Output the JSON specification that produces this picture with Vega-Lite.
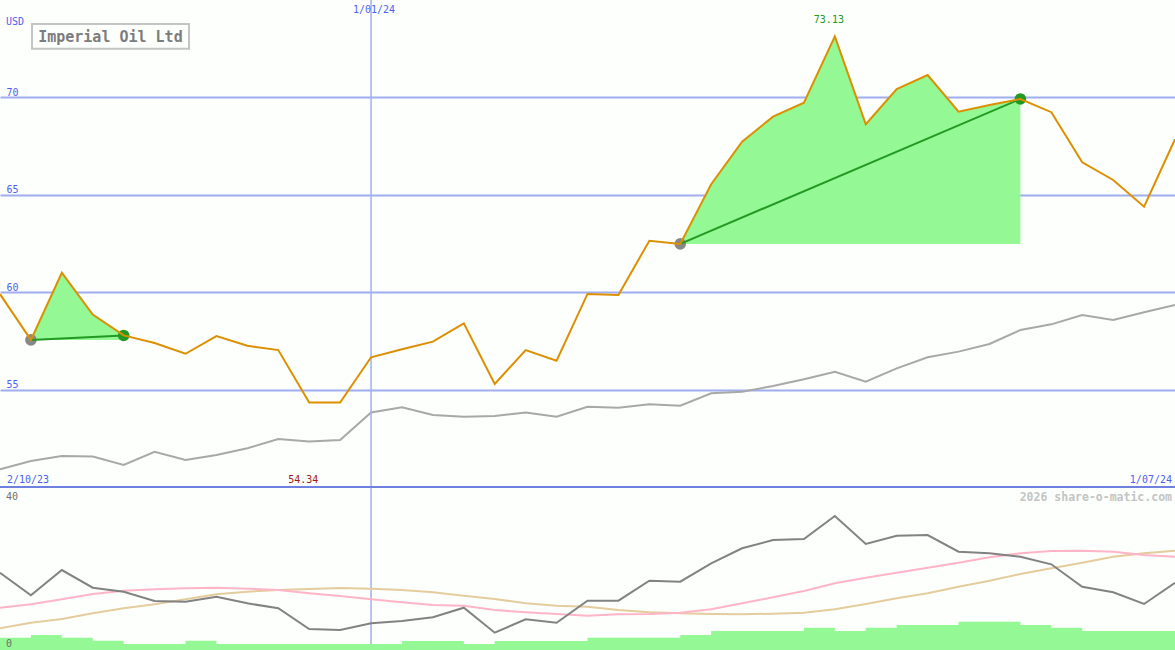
{
  "$schema": "https://vega.github.io/schema/vega-lite/v6.json",
  "background": "#fcfffc",
  "padding": 0,
  "bounds": "flush",
  "spacing": 0,
  "config": {"view": {"stroke": null}, "font": "DejaVu Sans Mono"},
  "datasets": {
    "prices": [
      {"date": "2023-10-09", "price": 59.9, "ma": 50.91, "osc": 20.86, "s1": 11.42, "s2": 5.86, "vol": 3.32},
      {"date": "2023-10-16", "price": 57.55, "ma": 51.33, "osc": 14.76, "s1": 12.33, "s2": 7.37, "vol": 4.05, "seg": 1, "sig": "buy"},
      {"date": "2023-10-23", "price": 61.0, "ma": 51.59, "osc": 21.59, "s1": 13.68, "s2": 8.37, "vol": 3.32, "seg": 1},
      {"date": "2023-10-30", "price": 58.85, "ma": 51.56, "osc": 16.82, "s1": 15.11, "s2": 9.91, "vol": 2.51, "seg": 1},
      {"date": "2023-11-06", "price": 57.78, "ma": 51.13, "osc": 15.74, "s1": 16.01, "s2": 11.26, "vol": 1.62, "seg": 1, "sig": "sell"},
      {"date": "2023-11-13", "price": 57.39, "ma": 51.81, "osc": 13.23, "s1": 16.38, "s2": 12.33, "vol": 1.62},
      {"date": "2023-11-20", "price": 56.84, "ma": 51.39, "osc": 13.04, "s1": 16.65, "s2": 13.68, "vol": 2.51},
      {"date": "2023-11-27", "price": 57.75, "ma": 51.64, "osc": 14.39, "s1": 16.82, "s2": 15.03, "vol": 1.62},
      {"date": "2023-12-04", "price": 57.25, "ma": 51.99, "osc": 12.6, "s1": 16.55, "s2": 15.74, "vol": 1.62},
      {"date": "2023-12-11", "price": 57.03, "ma": 52.46, "osc": 11.26, "s1": 16.19, "s2": 16.19, "vol": 1.62},
      {"date": "2023-12-18", "price": 54.34, "ma": 52.33, "osc": 5.67, "s1": 15.3, "s2": 16.46, "vol": 1.62},
      {"date": "2023-12-25", "price": 54.34, "ma": 52.41, "osc": 5.4, "s1": 14.57, "s2": 16.73, "vol": 1.62},
      {"date": "2024-01-01", "price": 56.66, "ma": 53.83, "osc": 7.21, "s1": 13.68, "s2": 16.55, "vol": 1.62},
      {"date": "2024-01-08", "price": 57.07, "ma": 54.09, "osc": 7.83, "s1": 12.87, "s2": 16.19, "vol": 2.43},
      {"date": "2024-01-15", "price": 57.46, "ma": 53.7, "osc": 8.83, "s1": 12.15, "s2": 15.57, "vol": 2.43},
      {"date": "2024-01-22", "price": 58.4, "ma": 53.61, "osc": 11.42, "s1": 11.96, "s2": 14.66, "vol": 1.62},
      {"date": "2024-01-29", "price": 55.29, "ma": 53.64, "osc": 4.67, "s1": 10.8, "s2": 13.77, "vol": 2.43},
      {"date": "2024-02-05", "price": 57.03, "ma": 53.83, "osc": 8.29, "s1": 10.18, "s2": 12.6, "vol": 2.43},
      {"date": "2024-02-12", "price": 56.48, "ma": 53.61, "osc": 7.37, "s1": 9.72, "s2": 11.96, "vol": 2.43},
      {"date": "2024-02-19", "price": 59.91, "ma": 54.12, "osc": 13.31, "s1": 9.26, "s2": 11.69, "vol": 3.32},
      {"date": "2024-02-26", "price": 59.86, "ma": 54.07, "osc": 13.31, "s1": 9.64, "s2": 10.8, "vol": 3.32},
      {"date": "2024-03-04", "price": 62.64, "ma": 54.25, "osc": 18.7, "s1": 9.72, "s2": 10.18, "vol": 3.32},
      {"date": "2024-03-11", "price": 62.48, "ma": 54.17, "osc": 18.43, "s1": 10.07, "s2": 9.91, "vol": 4.05, "seg": 2, "sig": "buy"},
      {"date": "2024-03-18", "price": 65.54, "ma": 54.81, "osc": 23.4, "s1": 10.99, "s2": 9.72, "vol": 5.13, "seg": 2},
      {"date": "2024-03-25", "price": 67.73, "ma": 54.89, "osc": 27.45, "s1": 12.6, "s2": 9.64, "vol": 5.13, "seg": 2},
      {"date": "2024-04-01", "price": 69.01, "ma": 55.18, "osc": 29.69, "s1": 14.22, "s2": 9.8, "vol": 5.13, "seg": 2},
      {"date": "2024-04-08", "price": 69.73, "ma": 55.53, "osc": 29.96, "s1": 15.92, "s2": 10.07, "vol": 6.02, "seg": 2},
      {"date": "2024-04-15", "price": 73.13, "ma": 55.92, "osc": 36.17, "s1": 18.0, "s2": 10.99, "vol": 5.13, "seg": 2},
      {"date": "2024-04-22", "price": 68.62, "ma": 55.41, "osc": 28.61, "s1": 19.51, "s2": 12.42, "vol": 6.02, "seg": 2},
      {"date": "2024-04-29", "price": 70.43, "ma": 56.09, "osc": 30.85, "s1": 20.86, "s2": 13.95, "vol": 6.75, "seg": 2},
      {"date": "2024-05-06", "price": 71.15, "ma": 56.66, "osc": 31.04, "s1": 22.21, "s2": 15.3, "vol": 6.75, "seg": 2},
      {"date": "2024-05-13", "price": 69.27, "ma": 56.95, "osc": 26.53, "s1": 23.56, "s2": 17.09, "vol": 7.64, "seg": 2},
      {"date": "2024-05-20", "price": 69.61, "ma": 57.34, "osc": 26.1, "s1": 25.02, "s2": 18.7, "vol": 7.64, "seg": 2},
      {"date": "2024-05-27", "price": 69.92, "ma": 58.06, "osc": 25.18, "s1": 26.1, "s2": 20.51, "vol": 6.75, "seg": 2, "sig": "sell"},
      {"date": "2024-06-03", "price": 69.24, "ma": 58.35, "osc": 23.13, "s1": 26.72, "s2": 22.05, "vol": 6.02},
      {"date": "2024-06-10", "price": 66.67, "ma": 58.83, "osc": 17.09, "s1": 26.8, "s2": 23.56, "vol": 5.13},
      {"date": "2024-06-17", "price": 65.76, "ma": 58.57, "osc": 15.57, "s1": 26.53, "s2": 25.18, "vol": 5.13},
      {"date": "2024-06-24", "price": 64.39, "ma": 58.97, "osc": 12.42, "s1": 25.64, "s2": 26.1, "vol": 5.13},
      {"date": "2024-07-01", "price": 67.85, "ma": 59.34, "osc": 18.16, "s1": 25.18, "s2": 26.8, "vol": 5.13}
    ]
  },
  "vconcat": [
    {
      "width": 1175,
      "height": 487,
      "data": {"name": "prices"},
      "layer": [
        {
          "mark": {"type": "line", "color": "#a8a8a8", "strokeWidth": 2, "clip": true},
          "encoding": {
            "x": {"field": "date", "type": "temporal", "axis": null,
                  "scale": {"domain": [{"year": 2023, "month": 10, "date": 9, "utc": true}, {"year": 2024, "month": 7, "date": 1, "utc": true}], "nice": false}},
            "y": {"field": "ma", "type": "quantitative",
                  "scale": {"domain": [50, 75], "nice": false, "zero": false},
                  "axis": {"values": [55, 60, 65, 70], "grid": true, "gridColor": "#a0aef0", "gridWidth": 2, "domain": false, "ticks": false,
                           "labelAlign": "left", "labelPadding": -6, "labelBaseline": "alphabetic", "labelOffset": -2,
                           "labelColor": "#5060f0", "labelFont": "DejaVu Sans Mono", "labelFontSize": 10, "title": null, "labelFlush": false}}
          }
        },
        {
          "data": {"values": [{}]},
          "mark": {"type": "rule", "color": "#a0aef0", "strokeWidth": 1.5, "clip": true},
          "encoding": {"x": {"datum": {"year": 2024, "month": 1, "date": 1, "utc": true}, "type": "temporal"}}
        },
        {
          "transform": [
            {"filter": "isValid(datum.seg)"},
            {"window": [{"op": "first_value", "field": "price", "as": "base"}], "groupby": ["seg"], "sort": [{"field": "date"}], "frame": [null, null]}
          ],
          "mark": {"type": "area", "color": "#94f894", "opacity": 1},
          "encoding": {
            "x": {"field": "date", "type": "temporal"},
            "y": {"field": "price", "type": "quantitative"},
            "y2": {"field": "base"},
            "detail": {"field": "seg"}
          }
        },
        {
          "transform": [{"filter": "isValid(datum.sig)"}],
          "mark": {"type": "circle", "size": 135, "opacity": 1},
          "encoding": {
            "x": {"field": "date", "type": "temporal"},
            "y": {"field": "price", "type": "quantitative"},
            "color": {"field": "sig", "type": "nominal", "scale": {"domain": ["buy", "sell"], "range": ["#888888", "#229922"]}, "legend": null}
          }
        },
        {
          "transform": [{"filter": "isValid(datum.sig)"}],
          "mark": {"type": "line", "color": "#229922", "strokeWidth": 2, "clip": true},
          "encoding": {
            "x": {"field": "date", "type": "temporal"},
            "y": {"field": "price", "type": "quantitative"},
            "detail": {"field": "seg"}
          }
        },
        {
          "mark": {"type": "line", "color": "#dc8f00", "strokeWidth": 2, "clip": true},
          "encoding": {
            "x": {"field": "date", "type": "temporal"},
            "y": {"field": "price", "type": "quantitative"}
          }
        },
        {
          "transform": [
            {"window": [{"op": "row_number", "as": "rn"}], "sort": [{"field": "price", "order": "descending"}, {"field": "date"}]},
            {"filter": "datum.rn == 1"}
          ],
          "mark": {"type": "text", "color": "#229922", "fontSize": 10, "baseline": "alphabetic", "align": "center", "dy": -13, "dx": -6},
          "encoding": {
            "x": {"field": "date", "type": "temporal"},
            "y": {"field": "price", "type": "quantitative"},
            "text": {"field": "price", "type": "quantitative", "format": ".2f"}
          }
        },
        {
          "transform": [
            {"window": [{"op": "row_number", "as": "rn"}], "sort": [{"field": "price", "order": "ascending"}, {"field": "date"}]},
            {"filter": "datum.rn == 1"}
          ],
          "mark": {"type": "text", "color": "#a01818", "fontSize": 10, "baseline": "alphabetic", "align": "center", "dy": -4, "dx": -6},
          "encoding": {
            "x": {"field": "date", "type": "temporal"},
            "y": {"datum": 50, "type": "quantitative"},
            "text": {"field": "price", "type": "quantitative", "format": ".2f"}
          }
        },
        {
          "data": {"values": [{}]},
          "mark": {"type": "text", "text": "USD", "color": "#5060f0", "fontSize": 10, "align": "left", "baseline": "alphabetic", "dx": 6, "dy": 25},
          "encoding": {
            "x": {"datum": {"year": 2023, "month": 10, "date": 9, "utc": true}, "type": "temporal"},
            "y": {"datum": 75, "type": "quantitative"}
          }
        },
        {
          "data": {"values": [{}]},
          "mark": {"type": "text", "text": "1/01/24", "color": "#5060f0", "fontSize": 10, "align": "center", "baseline": "alphabetic", "dx": 3, "dy": 13},
          "encoding": {
            "x": {"datum": {"year": 2024, "month": 1, "date": 1, "utc": true}, "type": "temporal"},
            "y": {"datum": 75, "type": "quantitative"}
          }
        },
        {
          "data": {"values": [{}]},
          "mark": {"type": "text", "text": "2/10/23", "color": "#5060f0", "fontSize": 10, "align": "left", "baseline": "alphabetic", "dx": 7, "dy": -4},
          "encoding": {
            "x": {"datum": {"year": 2023, "month": 10, "date": 9, "utc": true}, "type": "temporal"},
            "y": {"datum": 50, "type": "quantitative"}
          }
        },
        {
          "data": {"values": [{}]},
          "mark": {"type": "text", "text": "1/07/24", "color": "#5060f0", "fontSize": 10, "align": "right", "baseline": "alphabetic", "dx": -3, "dy": -4},
          "encoding": {
            "x": {"datum": {"year": 2024, "month": 7, "date": 1, "utc": true}, "type": "temporal"},
            "y": {"datum": 50, "type": "quantitative"}
          }
        },
        {
          "data": {"values": [{}]},
          "mark": {"type": "rect", "fill": null, "stroke": "#c4c4c4", "strokeWidth": 2},
          "encoding": {
            "x": {"datum": {"year": 2023, "month": 10, "date": 16, "hours": 6, "utc": true}, "type": "temporal"},
            "x2": {"datum": {"year": 2023, "month": 11, "date": 20, "hours": 19, "utc": true}},
            "y": {"datum": 73.77, "type": "quantitative"},
            "y2": {"datum": 72.5}
          }
        },
        {
          "data": {"values": [{}]},
          "mark": {"type": "text", "text": "Imperial Oil Ltd", "color": "#7c7c7c", "fontSize": 15, "fontWeight": "bold", "align": "center", "baseline": "alphabetic"},
          "encoding": {
            "x": {"datum": {"year": 2023, "month": 11, "date": 3, "utc": true}, "type": "temporal"},
            "y": {"datum": 72.86, "type": "quantitative"}
          }
        },
        {
          "data": {"values": [{}]},
          "mark": {"type": "rule", "color": "#7080e0", "strokeWidth": 2, "clip": true},
          "encoding": {"y": {"datum": 50, "type": "quantitative"}}
        }
      ]
    },
    {
      "width": 1175,
      "height": 163,
      "data": {"name": "prices"},
      "layer": [
        {
          "data": {"values": [{}]},
          "mark": {"type": "rule", "color": "#a0aef0", "strokeWidth": 1.5, "clip": true},
          "encoding": {"x": {"datum": {"year": 2024, "month": 1, "date": 1, "utc": true}, "type": "temporal",
                             "scale": {"domain": [{"year": 2023, "month": 10, "date": 9, "utc": true}, {"year": 2024, "month": 7, "date": 1, "utc": true}], "nice": false}, "axis": null}}
        },
        {
          "mark": {"type": "line", "color": "#e4cc9c", "strokeWidth": 2, "clip": true},
          "encoding": {
            "x": {"field": "date", "type": "temporal", "axis": null},
            "y": {"field": "s2", "type": "quantitative", "scale": {"domain": [0, 44], "nice": false}, "axis": null}
          }
        },
        {
          "mark": {"type": "line", "color": "#ffb4c8", "strokeWidth": 2, "clip": true},
          "encoding": {
            "x": {"field": "date", "type": "temporal", "axis": null},
            "y": {"field": "s1", "type": "quantitative", "axis": null}
          }
        },
        {
          "mark": {"type": "line", "color": "#828282", "strokeWidth": 2, "clip": true},
          "encoding": {
            "x": {"field": "date", "type": "temporal", "axis": null},
            "y": {"field": "osc", "type": "quantitative", "axis": null}
          }
        },
        {
          "mark": {"type": "area", "color": "#94f894", "opacity": 1, "interpolate": "step-after", "clip": true},
          "encoding": {
            "x": {"field": "date", "type": "temporal", "axis": null},
            "y": {"field": "vol", "type": "quantitative", "axis": null}
          }
        },
        {
          "data": {"values": [{}]},
          "mark": {"type": "rule", "color": "#7080e0", "strokeWidth": 2, "clip": true},
          "encoding": {"y": {"datum": 44, "type": "quantitative", "axis": null}}
        },
        {
          "data": {"values": [{}]},
          "mark": {"type": "text", "text": "40", "color": "#707070", "fontSize": 10, "align": "left", "baseline": "alphabetic", "dx": 6, "dy": -1.5},
          "encoding": {
            "x": {"datum": {"year": 2023, "month": 10, "date": 9, "utc": true}, "type": "temporal"},
            "y": {"datum": 40, "type": "quantitative"}
          }
        },
        {
          "data": {"values": [{}]},
          "mark": {"type": "text", "text": "0", "color": "#707070", "fontSize": 10, "align": "left", "baseline": "alphabetic", "dx": 6, "dy": -3},
          "encoding": {
            "x": {"datum": {"year": 2023, "month": 10, "date": 9, "utc": true}, "type": "temporal"},
            "y": {"datum": 0, "type": "quantitative"}
          }
        },
        {
          "data": {"values": [{}]},
          "mark": {"type": "text", "text": "2026 share-o-matic.com", "color": "#c4c4c4", "fontSize": 11.5, "fontWeight": "bold", "align": "right", "baseline": "alphabetic", "dx": -3, "dy": 13.5},
          "encoding": {
            "x": {"datum": {"year": 2024, "month": 7, "date": 1, "utc": true}, "type": "temporal"},
            "y": {"datum": 44, "type": "quantitative"}
          }
        }
      ]
    }
  ]
}
